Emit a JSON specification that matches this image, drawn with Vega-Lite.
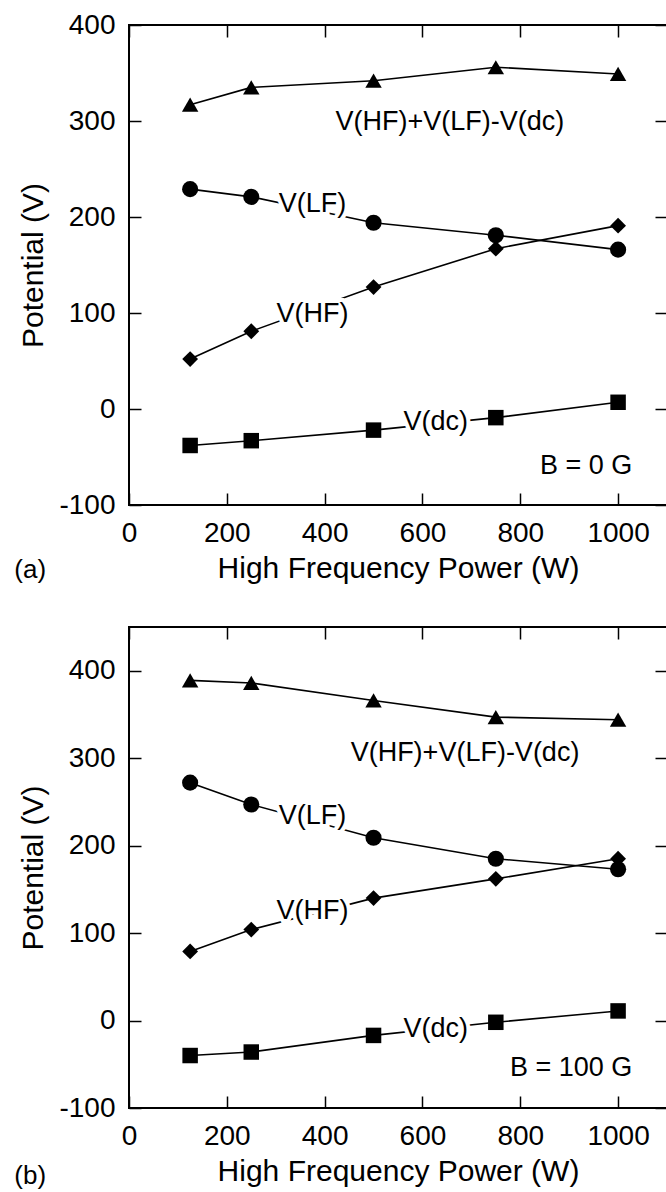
{
  "$schema": "https://vega.github.io/schema/vega-lite/v6.json",
  "padding": {"left": 13, "top": 10, "right": 0, "bottom": 0},
  "spacing": 40,
  "background": "white",
  "config": {
    "font": "Liberation Sans",
    "view": {"stroke": "black", "strokeWidth": 2},
    "axis": {
      "domain": false, "grid": false, "tickColor": "black", "tickWidth": 1.5, "tickSize": -12,
      "labelFontSize": 28, "labelColor": "black", "labelFont": "Liberation Sans", "labelPadding": 26, "labelFlush": false,
      "labelExpr": "replace(format(datum.value, 'd'), '\u2212', '-')",
      "titleFontSize": 30, "titleFontWeight": "normal", "titleColor": "black", "titleFont": "Liberation Sans"
    },
    "axisLeft": {"titlePadding": 10},
    "axisBottom": {"titlePadding": 6},
    "text": {"font": "Liberation Sans", "fontSize": 27, "color": "black"}
  },
  "vconcat": [
    {
      "width": 538, "height": 480,
      "resolve": {"axis": {"x": "independent", "y": "independent"}},
      "layer": [
        {
          "data": {"values": [
            {"series": "sum", "power": 125, "v": 317}, {"series": "sum", "power": 250, "v": 335}, {"series": "sum", "power": 500, "v": 342}, {"series": "sum", "power": 750, "v": 356}, {"series": "sum", "power": 1000, "v": 349},
            {"series": "LF", "power": 125, "v": 229}, {"series": "LF", "power": 250, "v": 221}, {"series": "LF", "power": 500, "v": 194}, {"series": "LF", "power": 750, "v": 181}, {"series": "LF", "power": 1000, "v": 166},
            {"series": "HF", "power": 125, "v": 52}, {"series": "HF", "power": 250, "v": 81}, {"series": "HF", "power": 500, "v": 127}, {"series": "HF", "power": 750, "v": 167}, {"series": "HF", "power": 1000, "v": 191},
            {"series": "dc", "power": 125, "v": -38}, {"series": "dc", "power": 250, "v": -33}, {"series": "dc", "power": 500, "v": -22}, {"series": "dc", "power": 750, "v": -9}, {"series": "dc", "power": 1000, "v": 7}
          ]},
          "layer": [
            {
              "mark": {"type": "line", "color": "black", "strokeWidth": 1.6},
              "encoding": {
                "x": {"field": "power", "type": "quantitative", "scale": {"domain": [0, 1100], "nice": false, "zero": false},
                      "axis": {"orient": "bottom", "values": [0, 200, 400, 600, 800, 1000], "title": "High Frequency Power (W)"}},
                "y": {"field": "v", "type": "quantitative", "scale": {"domain": [-100, 400], "nice": false, "zero": false},
                      "axis": {"orient": "left", "values": [-100, 0, 100, 200, 300, 400], "title": "Potential (V)"}},
                "detail": {"field": "series"}
              }
            },
            {
              "mark": {"type": "point", "filled": true, "color": "black", "opacity": 1},
              "encoding": {
                "x": {"field": "power", "type": "quantitative", "axis": {"orient": "top", "values": [0, 200, 400, 600, 800, 1000], "labels": false, "title": null}},
                "y": {"field": "v", "type": "quantitative", "axis": {"orient": "right", "values": [-100, 0, 100, 200, 300, 400], "labels": false, "title": null}},
                "shape": {"field": "series", "scale": {"domain": ["sum", "LF", "HF", "dc"], "range": ["triangle-up", "circle", "diamond", "square"]}, "legend": null},
                "size": {"field": "series", "scale": {"domain": ["sum", "LF", "HF", "dc"], "range": [270, 240, 230, 240]}, "legend": null}
              }
            }
          ]
        },
        {
          "data": {"values": [
            {"label": "V(HF)+V(LF)-V(dc)", "power": 656, "v": 299},
            {"label": "V(LF)", "power": 375, "v": 214},
            {"label": "V(HF)", "power": 375, "v": 99},
            {"label": "V(dc)", "power": 627, "v": -14}
          ]},
          "layer": [
            {
              "mark": {"type": "text", "stroke": "white", "strokeWidth": 8, "fill": "white", "align": "center", "baseline": "middle"},
              "encoding": {"x": {"field": "power", "type": "quantitative", "axis": null}, "y": {"field": "v", "type": "quantitative", "axis": null}, "text": {"field": "label"}}
            },
            {
              "mark": {"type": "text", "align": "center", "baseline": "middle"},
              "encoding": {"x": {"field": "power", "type": "quantitative", "axis": null}, "y": {"field": "v", "type": "quantitative", "axis": null}, "text": {"field": "label"}}
            }
          ]
        },
        {
          "data": {"values": [{"label": "B = 0 G", "power": 1029, "v": -59}]},
          "mark": {"type": "text", "align": "right", "baseline": "middle"},
          "encoding": {"x": {"field": "power", "type": "quantitative", "axis": null}, "y": {"field": "v", "type": "quantitative", "axis": null}, "text": {"field": "label"}}
        },
        {
          "data": {"values": [{"label": "(a)", "power": -202, "v": -168}]},
          "mark": {"type": "text", "align": "center", "baseline": "middle", "fontSize": 26, "clip": false},
          "encoding": {"x": {"field": "power", "type": "quantitative", "axis": null}, "y": {"field": "v", "type": "quantitative", "axis": null}, "text": {"field": "label"}}
        }
      ]
    },
    {
      "width": 538, "height": 481,
      "resolve": {"axis": {"x": "independent", "y": "independent"}},
      "layer": [
        {
          "data": {"values": [
            {"series": "sum", "power": 125, "v": 389}, {"series": "sum", "power": 250, "v": 386}, {"series": "sum", "power": 500, "v": 366}, {"series": "sum", "power": 750, "v": 347}, {"series": "sum", "power": 1000, "v": 344},
            {"series": "LF", "power": 125, "v": 272}, {"series": "LF", "power": 250, "v": 247}, {"series": "LF", "power": 500, "v": 209}, {"series": "LF", "power": 750, "v": 185}, {"series": "LF", "power": 1000, "v": 173},
            {"series": "HF", "power": 125, "v": 79}, {"series": "HF", "power": 250, "v": 104}, {"series": "HF", "power": 500, "v": 140}, {"series": "HF", "power": 750, "v": 162}, {"series": "HF", "power": 1000, "v": 185},
            {"series": "dc", "power": 125, "v": -40}, {"series": "dc", "power": 250, "v": -36}, {"series": "dc", "power": 500, "v": -17}, {"series": "dc", "power": 750, "v": -2}, {"series": "dc", "power": 1000, "v": 11}
          ]},
          "layer": [
            {
              "mark": {"type": "line", "color": "black", "strokeWidth": 1.6},
              "encoding": {
                "x": {"field": "power", "type": "quantitative", "scale": {"domain": [0, 1100], "nice": false, "zero": false},
                      "axis": {"orient": "bottom", "values": [0, 200, 400, 600, 800, 1000], "title": "High Frequency Power (W)"}},
                "y": {"field": "v", "type": "quantitative", "scale": {"domain": [-100, 450], "nice": false, "zero": false},
                      "axis": {"orient": "left", "values": [-100, 0, 100, 200, 300, 400], "title": "Potential (V)"}},
                "detail": {"field": "series"}
              }
            },
            {
              "mark": {"type": "point", "filled": true, "color": "black", "opacity": 1},
              "encoding": {
                "x": {"field": "power", "type": "quantitative", "axis": {"orient": "top", "values": [0, 200, 400, 600, 800, 1000], "labels": false, "title": null}},
                "y": {"field": "v", "type": "quantitative", "axis": {"orient": "right", "values": [-100, 0, 100, 200, 300, 400], "labels": false, "title": null}},
                "shape": {"field": "series", "scale": {"domain": ["sum", "LF", "HF", "dc"], "range": ["triangle-up", "circle", "diamond", "square"]}, "legend": null},
                "size": {"field": "series", "scale": {"domain": ["sum", "LF", "HF", "dc"], "range": [270, 240, 230, 240]}, "legend": null}
              }
            }
          ]
        },
        {
          "data": {"values": [
            {"label": "V(HF)+V(LF)-V(dc)", "power": 687, "v": 306},
            {"label": "V(LF)", "power": 375, "v": 234},
            {"label": "V(HF)", "power": 375, "v": 125},
            {"label": "V(dc)", "power": 627, "v": -10}
          ]},
          "layer": [
            {
              "mark": {"type": "text", "stroke": "white", "strokeWidth": 8, "fill": "white", "align": "center", "baseline": "middle"},
              "encoding": {"x": {"field": "power", "type": "quantitative", "axis": null}, "y": {"field": "v", "type": "quantitative", "axis": null}, "text": {"field": "label"}}
            },
            {
              "mark": {"type": "text", "align": "center", "baseline": "middle"},
              "encoding": {"x": {"field": "power", "type": "quantitative", "axis": null}, "y": {"field": "v", "type": "quantitative", "axis": null}, "text": {"field": "label"}}
            }
          ]
        },
        {
          "data": {"values": [{"label": "B = 100 G", "power": 1029, "v": -54}]},
          "mark": {"type": "text", "align": "right", "baseline": "middle"},
          "encoding": {"x": {"field": "power", "type": "quantitative", "axis": null}, "y": {"field": "v", "type": "quantitative", "axis": null}, "text": {"field": "label"}}
        },
        {
          "data": {"values": [{"label": "(b)", "power": -202, "v": -178}]},
          "mark": {"type": "text", "align": "center", "baseline": "middle", "fontSize": 26, "clip": false},
          "encoding": {"x": {"field": "power", "type": "quantitative", "axis": null}, "y": {"field": "v", "type": "quantitative", "axis": null}, "text": {"field": "label"}}
        }
      ]
    }
  ]
}
